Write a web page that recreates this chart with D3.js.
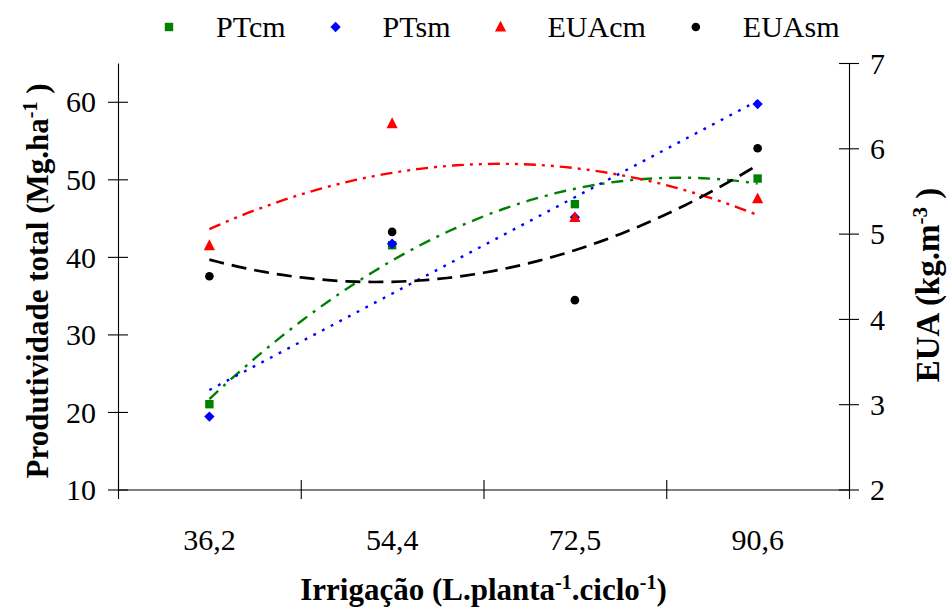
<!DOCTYPE html>
<html>
<head>
<meta charset="utf-8">
<script src="https://cdn.jsdelivr.net/npm/d3@7/dist/d3.min.js"></script>
<style>
  html, body { margin: 0; padding: 0; background: #fff; }
  svg { display: block; }
</style>
</head>
<body>
<svg id="chart" width="947" height="608"></svg>
<script>
// Irrigation levels (categories on the x axis)
const categories = ["36,2", "54,4", "72,5", "90,6"];
// Total yield (left axis, Mg/ha)
const ptcm = [21.0, 41.5, 46.8, 50.1];
const ptsm = [19.4, 41.7, 45.1, 59.7];
// Water use efficiency (right axis, kg/m3)
const euacm = [4.86, 6.29, 5.19, 5.41];
const euasm = [4.50, 5.02, 4.22, 6.00];
// Axis ticks
const leftTicks = [10, 20, 30, 40, 50, 60];
const rightTicks = [2, 3, 4, 5, 6, 7];
const legendLabels = ["PTcm", "PTsm", "EUAcm", "EUAsm"];

const FONT = '"Liberation Serif"';
const svg = d3.select("#chart");
const plot = { left: 118, right: 849, top: 63, bottom: 489.5 };

// category index 1..4 mapped to band centres; ticks sit between bands
const xLin = d3.scaleLinear().domain([0.5, categories.length + 0.5]).range([plot.left, plot.right]);
const xBand = d3.scaleBand().domain(categories).range([plot.left, plot.right]).padding(0);
const yL = d3.scaleLinear().domain([10, 65]).range([plot.bottom, plot.top]);
const yR = d3.scaleLinear().domain([2, 7]).range([plot.bottom, plot.top]);

// least-squares polynomial fit on the category index (trend lines)
function polyfit(ys, degree) {
  const xs = ys.map((_, i) => i + 1);
  const n = degree + 1;
  const A = Array.from({ length: n }, () => new Array(n + 1).fill(0));
  for (let r = 0; r < n; r++) {
    for (let c = 0; c < n; c++) A[r][c] = d3.sum(xs, x => Math.pow(x, r + c));
    A[r][n] = d3.sum(xs, (x, i) => ys[i] * Math.pow(x, r));
  }
  for (let i = 0; i < n; i++) {
    let p = i;
    for (let k = i + 1; k < n; k++) if (Math.abs(A[k][i]) > Math.abs(A[p][i])) p = k;
    [A[i], A[p]] = [A[p], A[i]];
    for (let k = 0; k < n; k++) {
      if (k === i) continue;
      const f = A[k][i] / A[i][i];
      for (let c = i; c <= n; c++) A[k][c] -= f * A[i][c];
    }
  }
  const coef = A.map((row, i) => row[n] / row[i]);
  return t => coef.reduce((s, c, i) => s + c * Math.pow(t, i), 0);
}

const series = [
  { name: "PTcm", values: ptcm, y: yL, color: "#008000", shape: "square", degree: 2, dash: "12,7,3,7", width: 2.4 },
  { name: "PTsm", values: ptsm, y: yL, color: "#0000FF", shape: "diamond", degree: 1, dash: "2.8,7", width: 2.4 },
  { name: "EUAcm", values: euacm, y: yR, color: "#FF0000", shape: "triangle", degree: 2, dash: "12,6,3,6,3,6", width: 2.4 },
  { name: "EUAsm", values: euasm, y: yR, color: "#000000", shape: "circle", degree: 2, dash: "15,8", width: 2.7 }
];

function markerPath(shape) {
  switch (shape) {
    case "square": return "M-4.2,-4.2H4.2V4.2H-4.2Z";
    case "diamond": return "M0,-5.2L5.2,0L0,5.2L-5.2,0Z";
    default: return "M0,-6.2L5.6,4.6H-5.6Z";
  }
}
function drawMarker(g, shape, color, x, y) {
  if (shape === "circle") {
    g.append("circle").attr("cx", x).attr("cy", y).attr("r", 4.3).attr("fill", color);
  } else {
    g.append("path").attr("d", markerPath(shape))
      .attr("transform", `translate(${x},${y})`).attr("fill", color);
  }
}

// Axes ------------------------------------------------------------------
const axisStyle = g => {
  g.attr("font-family", null).attr("font-size", null);
  g.selectAll("path.domain").attr("stroke", "#000").attr("stroke-width", 1.1);
  g.selectAll(".tick line").attr("stroke", "#000").attr("stroke-width", 1.1);
  g.selectAll(".tick text").style("font-family", FONT).style("font-size", "30px").attr("fill", "#000");
};

// x axis: crossing ticks between the categories
const xAxisG = svg.append("g").attr("transform", `translate(0,${plot.bottom})`)
  .call(d3.axisBottom(xLin).tickValues(d3.range(0.5, categories.length + 1, 1)).tickFormat("").tickSizeOuter(0))
  .call(axisStyle);
xAxisG.selectAll(".tick line").attr("y1", -9.5).attr("y2", 9.5);

// x category labels
const xLabG = svg.append("g").attr("transform", `translate(0,${plot.bottom})`)
  .call(d3.axisBottom(xBand).tickSize(0))
  .call(axisStyle);
xLabG.select("path.domain").remove();
xLabG.selectAll(".tick text").attr("y", 60.5).attr("dy", 0);

// left axis
const yLG = svg.append("g").attr("transform", `translate(${plot.left},0)`)
  .call(d3.axisLeft(yL).tickValues(leftTicks).tickFormat(d3.format("d")).tickSizeOuter(0))
  .call(axisStyle);
yLG.selectAll(".tick line").attr("x1", -10).attr("x2", 10);
yLG.selectAll(".tick text").attr("x", -22).attr("dy", "0.34em");

// right axis
const yRG = svg.append("g").attr("transform", `translate(${plot.right},0)`)
  .call(d3.axisRight(yR).tickValues(rightTicks).tickFormat(d3.format("d")).tickSizeOuter(0))
  .call(axisStyle);
yRG.selectAll(".tick line").attr("x1", -10).attr("x2", 10);
yRG.selectAll(".tick text").attr("x", 21).attr("dy", "0.34em");

// Trend lines -------------------------------------------------------------
const tSamples = d3.range(1, categories.length + 0.0001, 0.05);
const lineG = svg.append("g");
series.forEach(s => {
  const f = polyfit(s.values, s.degree);
  const line = d3.line().x(t => xLin(t)).y(t => s.y(f(t)));
  lineG.append("path").datum(tSamples).attr("d", line)
    .attr("fill", "none").attr("stroke", s.color).attr("stroke-width", s.width)
    .attr("stroke-dasharray", s.dash);
});

// Markers -----------------------------------------------------------------
const markG = svg.append("g");
series.forEach(s => {
  s.values.forEach((v, i) => drawMarker(markG, s.shape, s.color, xLin(i + 1), s.y(v)));
});

// Legend ------------------------------------------------------------------
const legG = svg.append("g");
let lx = 169;
series.forEach((s, i) => {
  drawMarker(legG, s.shape, s.color, lx, 27);
  const t = legG.append("text").attr("x", lx + 47).attr("y", 37)
    .style("font-family", FONT).style("font-size", "30px").text(legendLabels[i]);
  lx = lx + 47 + t.node().getComputedTextLength() + 50;
});

// Axis titles (bold, with superscripts) -------------------------------------
function titleWithSup(g, parts, size) {
  const supSize = Math.round(size * 0.65);
  const shift = Math.round(size * 0.36);
  const t = g.append("text").attr("text-anchor", "middle")
    .style("font-family", FONT).style("font-size", size + "px").style("font-weight", "bold");
  let raised = false;
  parts.forEach(([txt, sup]) => {
    const ts = t.append("tspan").text(txt);
    if (sup && !raised) { ts.attr("dy", -shift).style("font-size", supSize + "px"); raised = true; }
    else if (!sup && raised) { ts.attr("dy", shift); raised = false; }
  });
  return t;
}

titleWithSup(svg.append("g").attr("transform", `translate(${(plot.left + plot.right) / 2},600)`),
  [["Irrigação (L.planta"], ["-1", true], [".ciclo"], ["-1", true], [")"]], 31);
titleWithSup(svg.append("g").attr("transform", "translate(48,281) rotate(-90)"),
  [["Produtividade total (Mg.ha"], ["-1", true], [" )"]], 31);
titleWithSup(svg.append("g").attr("transform", "translate(939,285) rotate(-90)"),
  [["EUA (kg.m"], ["-3", true], [" )"]], 33);
</script>
</body>
</html>
